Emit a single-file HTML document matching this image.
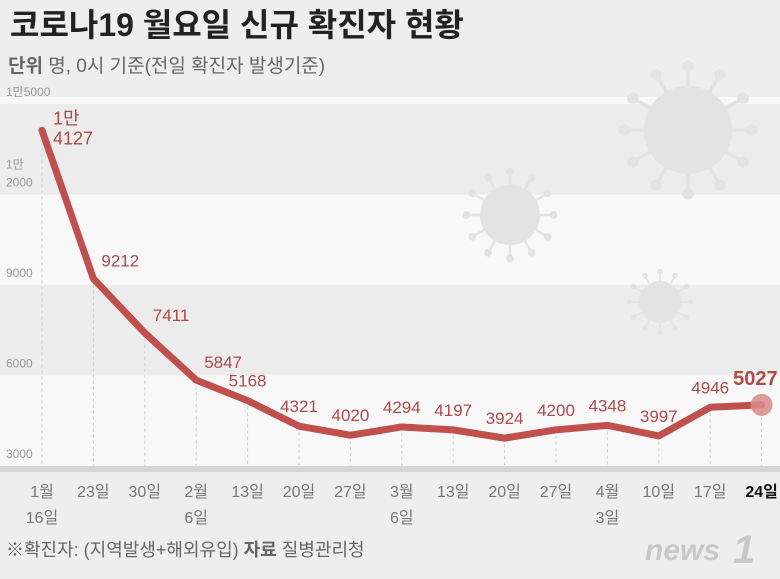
<!DOCTYPE html>
<html><head><meta charset="utf-8"><style>
body{margin:0;width:780px;height:579px;background:#eeeeee;overflow:hidden;font-family:"Liberation Sans","Noto Sans CJK KR",sans-serif}
svg{position:absolute;left:0;top:0}
</style></head><body>
<svg id="c" width="780" height="579">
<rect x="0" y="0" width="780" height="579" fill="#eeeeee"/>
<rect x="0" y="97" width="780" height="372" fill="#f8f8f8"/>
<g id="bands"></g>
<g id="virus" fill="#e3e3e3"></g>
<rect x="0" y="466" width="780" height="6" fill="#d6d6d6"/>
<g id="grid"></g>
<g id="ylab"></g>
<g id="xlab"></g>
<g id="line"></g>
<g id="vals"></g>
<text x="10" y="36" font-size="32" font-weight="bold" fill="#222">코로나19 월요일 신규 확진자 현황</text>
<text x="8" y="72" font-size="19" fill="#666"><tspan font-weight="bold">단위</tspan>  명, 0시 기준(전일 확진자 발생기준)</text>
<text x="6" y="556" font-size="18" fill="#666">※확진자: (지역발생+해외유입)  <tspan font-weight="bold">자료</tspan>  질병관리청</text>
<text x="645" y="560" font-size="30" font-style="italic" font-weight="bold" fill="#c8c8c8">news</text>
<text x="733" y="563" font-size="40" font-style="italic" font-weight="bold" fill="#c8c8c8">1</text>
</svg>
<script>
const categories=[["1월","16일"],["23일"],["30일"],["2월","6일"],["13일"],["20일"],["27일"],["3월","6일"],["13일"],["20일"],["27일"],["4월","3일"],["10일"],["17일"],["24일"]];
const values=[14127,9212,7411,5847,5168,4321,4020,4294,4197,3924,4200,4348,3997,4946,5027];
const yTicks=[3000,6000,9000,12000,15000];
const yTickLabels=["3000","6000","9000","1만\n2000","1만5000"];
const NS="http://www.w3.org/2000/svg";
const x=i=>42+i*51.4;
const y=v=>466-(v-3000)/3000*90.5;
function el(t,a,p){const e=document.createElementNS(NS,t);for(const k in a)e.setAttribute(k,a[k]);document.getElementById(p).appendChild(e);return e;}
for(let i=0;i<yTicks.length-1;i++){
 const b=el('rect',{x:0,y:y(yTicks[i+1]),width:780,height:y(yTicks[i])-y(yTicks[i+1]),fill:i%2?'#ececec':'#f8f8f8'},'bands');
 
 
}
function virus(cx,cy,r){
 for(let k=0;k<12;k++){const a=k*Math.PI/6;
  el('line',{x1:cx,y1:cy,x2:cx+Math.cos(a)*r*1.45,y2:cy+Math.sin(a)*r*1.45,stroke:'#e3e3e3','stroke-width':r*0.08},'virus');
  el('circle',{cx:cx+Math.cos(a)*r*1.45,cy:cy+Math.sin(a)*r*1.45,r:r*0.13},'virus');}
 el('circle',{cx:cx,cy:cy,r:r},'virus');
}
virus(688,130,44);virus(510,215,30);virus(660,302,21);
yTicks.forEach((t,i)=>{
 const lines=yTickLabels[i].split("\n");
 lines.forEach((s,j)=>{
  const tx=el('text',{x:6,y:y(t)-8-(lines.length-1-j)*18,'font-size':12,fill:'#999'},'ylab');
  tx.textContent=s;
  
  
 });
});
categories.forEach((c,i)=>{
 const g=el('line',{x1:x(i),x2:x(i),y1:y(values[i]),y2:466,stroke:'#cfcfcf','stroke-dasharray':'3,3'},'grid');
 
 
 c.forEach((s,j)=>{
  const last=i===categories.length-1;
  const t=el('text',{x:x(i),y:497+j*26,'font-size':16,'text-anchor':'middle',fill:last?'#111':'#777','font-weight':last?'bold':'normal'},'xlab');
  t.textContent=s;
  
  
 });
});
const pl=el('polyline',{points:values.map((v,i)=>x(i)+','+y(v)).join(' '),fill:'none',stroke:'#c0504d','stroke-width':7,'stroke-linejoin':'round','stroke-linecap':'round'},'line');


const li=values.length-1;
const dot=el('circle',{cx:x(li),cy:y(values[li]),r:11,fill:'#d98b8a',opacity:0.85},'line');


values.forEach((v,i)=>{
 const last=i===li;
 let tx=x(i)+8, ty=y(v)-12, anchor='start';
 if(i===0){
  const a=el('text',{x:x(i)+11,y:y(v)-6,'font-size':18,fill:'#b04a48'},'vals');a.textContent='1만';
  
  
  const b=el('text',{x:x(i)+11,y:y(v)+14,'font-size':18,fill:'#b04a48'},'vals');b.textContent=String(v-10000);
  
  
  return;
 }
 if(i>=4){tx=x(i);anchor='middle';ty=y(v)-14;}
 if(last){tx=x(i)+16;anchor='end';ty=y(v)-20;}
 const t=el('text',{x:tx,y:ty,'font-size':last?20:17,'text-anchor':anchor,fill:'#b04a48','font-weight':last?'bold':'normal'},'vals');
 t.textContent=String(v);
 
 
});
</script>
</body></html>
